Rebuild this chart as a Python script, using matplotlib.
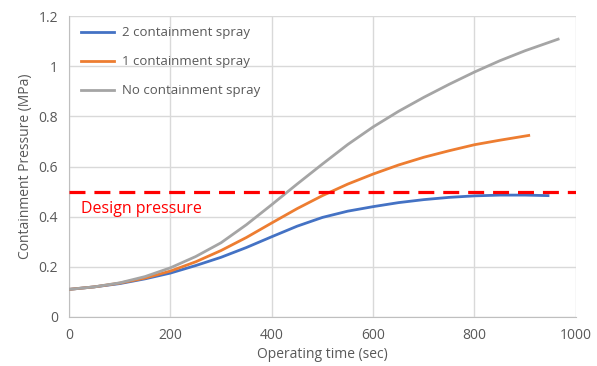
import matplotlib
matplotlib.use("Agg")
import matplotlib.pyplot as plt

# Values
t_two = [0, 50, 100, 150, 200, 250, 300, 350, 400, 450, 500, 550, 600, 650, 700, 750, 800, 850, 900, 945]
p_two = [0.11, 0.12, 0.133, 0.152, 0.175, 0.205, 0.238, 0.277, 0.32, 0.362, 0.397, 0.422, 0.44,
         0.456, 0.468, 0.477, 0.483, 0.486, 0.486, 0.484]

t_one = [0, 50, 100, 150, 200, 250, 300, 350, 400, 450, 500, 550, 600, 650, 700, 750, 800, 850, 907]
p_one = [0.11, 0.12, 0.135, 0.155, 0.183, 0.22, 0.265, 0.317, 0.375, 0.432, 0.484, 0.53, 0.57,
         0.606, 0.637, 0.663, 0.687, 0.705, 0.724]

t_none = [0, 50, 100, 150, 200, 250, 300, 350, 400, 450, 500, 550, 600, 650, 700, 750, 800, 850, 900, 965]
p_none = [0.11, 0.12, 0.136, 0.161, 0.196, 0.241, 0.296, 0.368, 0.448, 0.53, 0.61, 0.688, 0.758,
          0.82, 0.876, 0.928, 0.977, 1.022, 1.062, 1.108]

design_p = 0.5

TXT = "#595959"
plt.rcParams["font.family"] = ["Open Sans", "DejaVu Sans"]

fig = plt.figure(figsize=(5.97, 3.66), dpi=100)
ax = fig.add_axes([0.1156, 0.134, 0.849, 0.822])

ax.plot(t_two, p_two, color="#4472C4", lw=2, label="2 containment spray", zorder=3)
ax.plot(t_one, p_one, color="#ED7D31", lw=2, label="1 containment spray", zorder=3)
ax.plot(t_none, p_none, color="#A5A5A5", lw=2, label="No containment spray", zorder=3)
ax.axhline(design_p, color="#FF0000", lw=2.3, ls=(0, (5, 2.8)), zorder=4)
ax.text(24, 0.432, "Design pressure", color="#FF0000", fontsize=11.5, va="center")

ax.set_xlim(0, 1000)
ax.set_ylim(0, 1.2)
ax.set_xticks(range(0, 1001, 200))
ax.set_yticks([0, 0.2, 0.4, 0.6, 0.8, 1.0, 1.2])
ax.set_yticklabels(["0", "0.2", "0.4", "0.6", "0.8", "1", "1.2"])
ax.grid(True, color="#D9D9D9", lw=1)
ax.set_axisbelow(True)
for s in ["top", "right"]:
    ax.spines[s].set_visible(False)
for s in ["left", "bottom"]:
    ax.spines[s].set_color("#BFBFBF")
ax.tick_params(length=0, colors=TXT, labelsize=10, pad=8)
ax.set_xlabel("Operating time (sec)", color=TXT, fontsize=10, labelpad=3)
ax.set_ylabel("Containment Pressure (MPa)", color=TXT, fontsize=10, labelpad=4)

ax.legend(loc="upper left", frameon=False, fontsize=9.5, labelcolor=TXT,
          handlelength=2.5, handletextpad=0.6, labelspacing=1.2,
          bbox_to_anchor=(0.0, 1.005))

fig.savefig("out.png", dpi=100)
